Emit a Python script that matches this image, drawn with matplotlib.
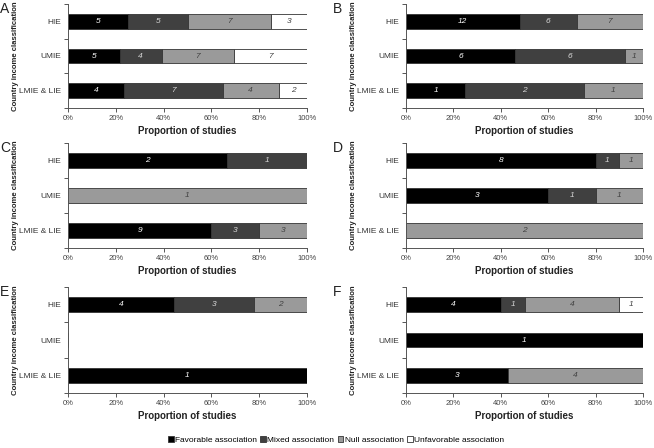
import matplotlib.pyplot as plt
import numpy as np
from matplotlib.patches import Patch
from matplotlib.ticker import FuncFormatter

categories = ["HIE", "UMIE", "LMIE & LIE"]
series_names = ["Favorable association", "Mixed association", "Null association", "Unfavorable association"]
colors = ["#000000", "#404040", "#9a9a9a", "#ffffff"]
text_colors = ["white", "#d8d8d8", "#404040", "#404040"]

# counts per panel: rows = categories, cols = favorable, mixed, null, unfavorable
panel_A = [[5, 5, 7, 3], [5, 4, 7, 7], [4, 7, 4, 2]]
panel_B = [[12, 6, 7, 0], [6, 6, 1, 0], [1, 2, 1, 0]]
panel_C = [[2, 1, 0, 0], [0, 0, 1, 0], [9, 3, 3, 0]]
panel_D = [[8, 1, 1, 0], [3, 1, 1, 0], [0, 0, 2, 0]]
panel_E = [[4, 3, 2, 0], [0, 0, 0, 0], [1, 0, 0, 0]]
panel_F = [[4, 1, 4, 1], [1, 0, 0, 0], [3, 0, 4, 0]]
panels = {"A": panel_A, "B": panel_B, "C": panel_C, "D": panel_D, "E": panel_E, "F": panel_F}

plt.rcParams['font.family'] = ['Liberation Sans', 'DejaVu Sans']
fig = plt.figure(figsize=(6.54, 4.48), dpi=100)
W, H = 654, 448

# axes boxes in pixels: left, top, right, bottom
lefts = [68, 406]
rights = [307, 643]
rows = [(4, 108), (143, 248), (287, 393)]
label_x = [19, 357]
letter_x = [0, 333]

spine_col = "#555555"
for i, (letter, data) in enumerate(panels.items()):
    r, c = divmod(i, 2)
    l, rr = lefts[c], rights[c]
    t, b = rows[r]
    ax = fig.add_axes([l / W, 1 - b / H, (rr - l) / W, (b - t) / H])
    data = np.array(data, dtype=float)
    y = np.arange(len(categories))
    totals = data.sum(axis=1)
    left = np.zeros(len(categories))
    for k in range(4):
        frac = np.where(totals > 0, data[:, k] / np.where(totals > 0, totals, 1), 0)
        ax.barh(y, frac, left=left, height=0.42, color=colors[k],
                edgecolor="#333333", linewidth=0.6)
        for j in range(len(categories)):
            if data[j, k] > 0:
                ax.text(left[j] + frac[j] / 2, y[j], f"{int(data[j, k])}",
                        ha="center", va="center", fontsize=6,
                        style="italic", color=text_colors[k])
        left += frac
    ax.set_xlim(0, 1)
    ax.set_ylim(len(categories) - 0.5, -0.5)
    ax.set_yticks(y)
    ax.set_yticklabels(categories, fontsize=6, color="#333333")
    ax.set_yticks([-0.5, 0.5, 1.5, 2.5], minor=True)
    ax.tick_params(axis="y", which="major", length=0, pad=5)
    ax.tick_params(axis="y", which="minor", length=3, color=spine_col, width=0.7)
    ax.set_xticks(np.linspace(0, 1, 6))
    ax.xaxis.set_major_formatter(FuncFormatter(lambda v, p: f"{v * 100:.0f}%"))
    ax.tick_params(axis="x", labelsize=5.5, length=3, color=spine_col, width=0.7,
                   labelcolor="#444444", pad=2)
    for s in ["top", "right"]:
        ax.spines[s].set_visible(False)
    for s in ["left", "bottom"]:
        ax.spines[s].set_color(spine_col)
        ax.spines[s].set_linewidth(0.7)
    ax.set_xlabel("Proportion of studies", fontsize=7, fontweight="bold",
                  color="#222222", labelpad=3)
    ax.set_ylabel("Country income classification", fontsize=5.6, fontweight="bold",
                  color="#222222")
    ax.yaxis.set_label_coords((label_x[c] - l) / (rr - l), 0.5)
    fig.text(letter_x[c] / W, 1 - (t - 2) / H, letter, fontsize=10,
             ha="left", va="top", color="#222222")

handles = [Patch(facecolor=colors[k], edgecolor="#333333", linewidth=0.6) for k in range(4)]
fig.legend(handles, series_names, loc="center", bbox_to_anchor=(336 / W, 1 - 440 / H),
           ncol=4, frameon=False, fontsize=6, handlelength=0.7, handleheight=0.7,
           handletextpad=0.15, columnspacing=0.4)

fig.savefig("out.png", dpi=100)
